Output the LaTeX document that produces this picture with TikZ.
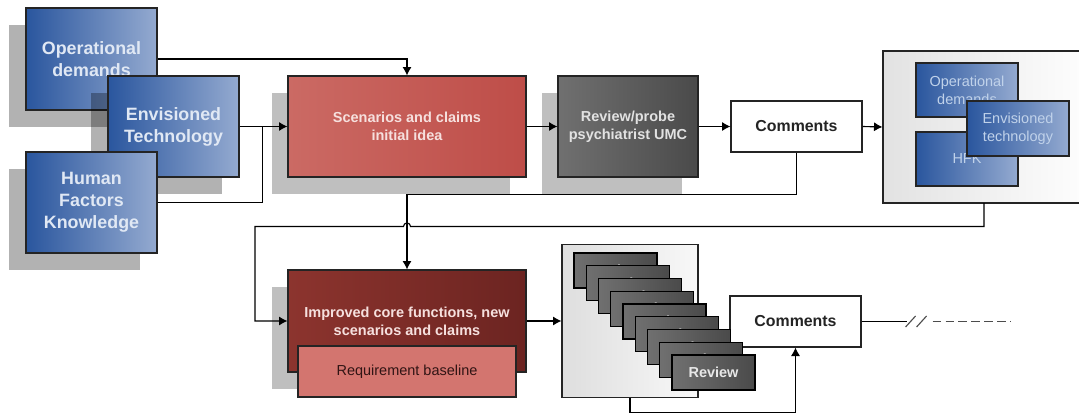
\documentclass[tikz,border=0pt]{standalone}
\usepackage{fontspec}
\setmainfont{Liberation Sans}
\usetikzlibrary{arrows.meta}
\usetikzlibrary{calc}
\usetikzlibrary{shadows}

\definecolor{bluedark}{RGB}{42,86,158}
\definecolor{bluelight}{RGB}{148,170,208}
\definecolor{bluetext}{RGB}{224,232,244}
\definecolor{bluetextsoft}{RGB}{192,210,234}
\definecolor{reddark}{RGB}{190,77,72}
\definecolor{redlight}{RGB}{203,106,100}
\definecolor{redtext}{RGB}{246,224,222}
\definecolor{maroondark}{RGB}{108,36,33}
\definecolor{maroonlight}{RGB}{140,52,46}
\definecolor{salmon}{RGB}{211,117,111}
\definecolor{greydark}{RGB}{74,74,74}
\definecolor{greylight}{RGB}{112,112,112}
\definecolor{edge}{RGB}{36,36,36}

\tikzset{
  wh/.style 2 args={minimum width=#1*0.025cm, minimum height=#2*0.025cm},
  box/.style={draw=edge, line width=0.8pt, inner sep=1pt, align=center},
  bluebox/.style={box, left color=bluedark, right color=bluelight, text=bluetext,
    font=\fontsize{12.7}{15.6}\selectfont\bfseries},
  smallblue/.style={box, wh={102}{54}, left color=bluedark, right color=bluelight,
    text=bluetextsoft, font=\fontsize{10.3}{12.8}\selectfont},
  bigshadow/.style={drop shadow={shadow xshift=-12.1pt, shadow yshift=-12.1pt,
    opacity=0.3, fill=black}},
  stepshadow/.style={drop shadow={shadow xshift=-11.4pt, shadow yshift=-12.1pt,
    opacity=0.25, fill=black}},
  boldtext/.style={font=\fontsize{10.3}{12.8}\selectfont\bfseries},
  commentbox/.style={box, wh={131}{51}, fill=white, text=edge,
    font=\fontsize{11.3}{13}\selectfont\bfseries},
  card/.style={box, wh={83}{35}, draw=black, left color=greylight, right color=greydark,
    text={rgb,255:red,232;green,232;blue,232}, boldtext},
  link/.style={line width=0.8pt, black},
}

\begin{document}
\begin{tikzpicture}[x=0.025cm, y=-0.025cm, >={Latex[length=6pt,width=6.5pt]}]
  \clip (0,0) rectangle (1079,414);

  % input boxes
  \node[bluebox, wh={131}{102}, bigshadow] (opd) at (91.5,59) {Operational\\demands};
  \node[bluebox, wh={131}{101}, bigshadow] (env) at (173.5,126.5) {Envisioned\\Technology};
  \node[bluebox, wh={131}{101}, bigshadow] (hfk) at (91.5,202.5) {Human\\Factors\\Knowledge};

  % first round
  \node[box, wh={238}{101}, stepshadow, left color=redlight, right color=reddark,
    text=redtext, boldtext] (scen) at (407,126.5) {Scenarios and claims\\initial idea};
  \node[box, wh={140}{101}, stepshadow, left color={rgb,255:red,112;green,112;blue,112},
    right color={rgb,255:red,74;green,74;blue,74},
    text={rgb,255:red,226;green,226;blue,226}, boldtext] (rev) at (628,126.5)
    {Review/probe\\psychiatrist UMC};
  \node[commentbox] (com1) at (796.5,126.5) {Comments};

  % updated inputs
  \node[box, wh={212}{152}, left color={rgb,255:red,226;green,226;blue,226},
    right color=white] (big) at (989,127) {};
  \node[smallblue] (opd2) at (967,90) {Operational\\demands};
  \node[smallblue] (hfk2) at (967,159) {HFK};
  \node[smallblue, wh={102}{55}] (env2) at (1018,128.5) {Envisioned\\technology};
  \coordinate (bigout) at (984,203);

  % second round
  \node[box, wh={238}{102}, stepshadow, left color=maroonlight, right color=maroondark,
    text=redtext, boldtext] (imp) at (407,321) {Improved core functions, new\\scenarios and claims};
  \node[box, wh={218}{51}, fill=salmon, text={rgb,255:red,48;green,20;blue,20},
    font=\fontsize{10.3}{12.8}\selectfont] (req) at (407,371.5) {Requirement baseline};

  \node[box, wh={136}{153}, left color={rgb,255:red,222;green,222;blue,222},
    right color={rgb,255:red,248;green,248;blue,248}] (stack) at (630,321) {};
  \node[commentbox] (com2) at (795.5,321.5) {Comments};

  % stack of reviews
  \foreach \i in {0,...,8} {
    \node[card] (card\i) at ({615.5+12.25*\i}, {270.5+12.75*\i}) {Review};
  }

  % connectors
  \coordinate (jn) at ($(env.east)!0.47!(scen.west)$);
  \draw[link, ->] (opd.east) -| (scen.north);
  \draw[link, ->] (env.east) -- (scen.west);
  \draw[link] (hfk.east) -| (jn);
  \draw[link, ->] (scen.east) -- (rev.west);
  \draw[link, ->] (rev.east) -- (com1.west);
  \draw[link, ->] (com1.east) -- (big.west);
  \draw[link, ->] (com1.south) -- ++(0,42) -| (imp.north);

  \coordinate (hop) at ($(imp.north)+(0,-43)$);
  \draw[link, ->] (bigout) |- ($(hop)+(3.5,0)$) arc[start angle=0, end angle=-180, radius=3.5]
    -- ($(hop)+(-152,0)$) |- (imp.west);

  \draw[link, ->] (imp.east) -- (stack.west);
  \draw[link, ->] (stack.south) -- ++(0,14) -| (com2.south);

  % open end
  \draw[link] (com2.east) -- ++(45,0) coordinate (brk);
  \draw[link, gray!60!black] ($(brk)+(-1,5.5)$) -- ++(10,-11);
  \draw[link, gray!60!black] ($(brk)+(10,5.5)$) -- ++(10,-11);
  \draw[link, gray!60!black, dash pattern=on 7.5\pgflinewidth off 4\pgflinewidth]
    ($(brk)+(26,0)$) -- ++(78,0);
\end{tikzpicture}
\end{document}
